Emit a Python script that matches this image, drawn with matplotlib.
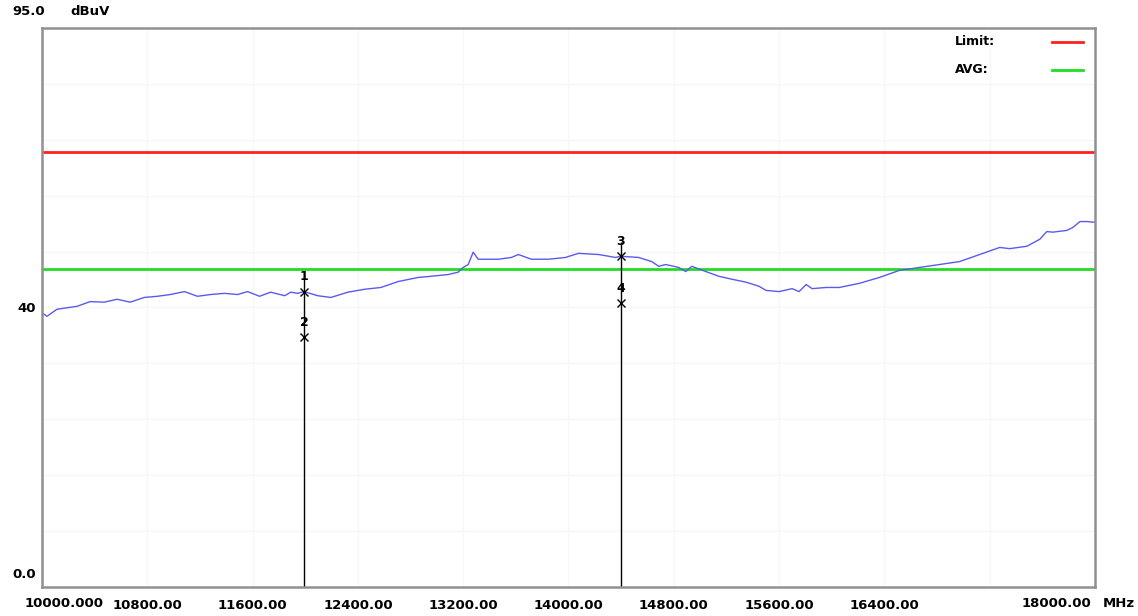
import matplotlib
matplotlib.use('Agg')
import matplotlib.pyplot as plt
import numpy as np

plt.rcParams['font.family'] = ['DejaVu Sans']

# trace (MHz, dBuV)
freq = [10000, 10038, 10114, 10267, 10366, 10472, 10571, 10670, 10777, 10876,
        10975, 11082, 11181, 11280, 11387, 11486, 11562, 11653, 11737, 11844,
        11890, 11943, 11989, 12095, 12194, 12324, 12453, 12575, 12705, 12857,
        12956, 13086, 13162, 13200, 13238, 13276, 13314, 13467, 13566, 13619,
        13718, 13848, 13977, 14076, 14229, 14358, 14396, 14533, 14632, 14686,
        14739, 14838, 14891, 14937, 15044, 15143, 15242, 15349, 15448, 15501,
        15600, 15699, 15752, 15806, 15851, 15958, 16057, 16210, 16362, 16514,
        16667, 16819, 16971, 17124, 17276, 17352, 17482, 17581, 17634, 17680,
        17787, 17832, 17886, 17939, 17985, 18000]
level = [46.6, 46.0, 47.2, 47.7, 48.5, 48.4, 48.9, 48.4, 49.2, 49.4,
         49.7, 50.2, 49.4, 49.7, 49.9, 49.7, 50.2, 49.4, 50.1, 49.5,
         50.1, 49.9, 50.2, 49.5, 49.2, 50.1, 50.6, 50.9, 51.9, 52.6,
         52.8, 53.1, 53.5, 54.3, 54.8, 56.9, 55.7, 55.7, 56.0, 56.5,
         55.7, 55.7, 56.0, 56.7, 56.5, 56.0, 56.2, 56.0, 55.3, 54.5,
         54.8, 54.3, 53.6, 54.5, 53.6, 52.8, 52.3, 51.8, 51.1, 50.4,
         50.2, 50.7, 50.2, 51.4, 50.7, 50.9, 50.9, 51.6, 52.6, 53.8,
         54.3, 54.8, 55.3, 56.5, 57.7, 57.5, 57.9, 59.1, 60.4, 60.3,
         60.6, 61.1, 62.1, 62.1, 62.0, 62.0]

limit_peak = 74.0
limit_avg = 54.0

mk_freq = [11990, 11990, 14396, 14396]
mk_level = [50.2, 42.4, 56.2, 48.2]
mk_name = ['1', '2', '3', '4']

xtick_vals = [10800, 11600, 12400, 13200, 14000, 14800, 15600, 16400]
xtick_text = ['10800.00', '11600.00', '12400.00', '13200.00', '14000.00',
              '14800.00', '15600.00', '16400.00']

fig = plt.figure(figsize=(11.38, 6.16), dpi=100)
ax = fig.add_axes([0.0369, 0.0471, 0.9253, 0.9075])

ax.set_xlim(10000, 18000)
ax.set_ylim(0, 95)

# very faint background grid
for gx in np.arange(10000, 18001, 800):
    ax.axvline(gx, color='#f7f7f7', lw=1, zorder=0)
for gy in np.arange(0, 95.1, 9.5):
    ax.axhline(gy, color='#f7f7f7', lw=1, zorder=0)

ax.axhline(limit_peak, color='#ff2020', lw=2)
ax.axhline(limit_avg, color='#22dd22', lw=2)
ax.plot(freq, level, color='#5a5af0', lw=1)

# marker lines + labels
ax.vlines([mk_freq[0], mk_freq[2]], 0, [mk_level[0] + 2.5, mk_level[2] + 2.5], color='black', lw=1)
ax.plot(mk_freq, mk_level, 'x', color='black', ms=6, mew=1)
for f, v, n in zip(mk_freq, mk_level, mk_name):
    ax.annotate(n, (f, v), xytext=(0, 6), textcoords='offset points',
                ha='center', va='bottom', fontsize=9, fontweight='bold')

for s in ax.spines.values():
    s.set_color('#909090')
    s.set_linewidth(1.8)

ax.set_xticks(xtick_vals)
ax.set_xticklabels(xtick_text, fontsize=9.5, fontweight='bold')
ax.tick_params(axis='x', length=0, pad=9)
ax.set_yticks([])

tr = ax.transAxes
ax.annotate('10000.000', (10000, 0), xytext=(-17, -17), textcoords='offset pixels',
            ha='left', va='center', fontsize=9.5, fontweight='bold', annotation_clip=False)
ax.annotate('18000.00', (18000, 0), xytext=(-4, -17), textcoords='offset pixels',
            ha='right', va='center', fontsize=9.5, fontweight='bold', annotation_clip=False)
ax.text(1.0076, -0.030, 'MHz', transform=tr, ha='left', va='center', fontsize=9.5, fontweight='bold')
ax.text(-0.006, 0.023, '0.0', transform=tr, ha='right', va='center', fontsize=9.5, fontweight='bold')
ax.text(-0.006, 0.499, '40', transform=tr, ha='right', va='center', fontsize=9.5, fontweight='bold')
ax.text(0.003, 1.029, '95.0', transform=tr, ha='right', va='center', fontsize=9.5, fontweight='bold')
ax.text(0.0266, 1.029, 'dBuV', transform=tr, ha='left', va='center', fontsize=9.5, fontweight='bold')

# legend block, top right: label then line sample
ax.text(0.867, 0.975, 'Limit:', transform=tr, ha='left', va='center', fontsize=9, fontweight='bold')
ax.text(0.867, 0.925, 'AVG:', transform=tr, ha='left', va='center', fontsize=9, fontweight='bold')
ax.plot([0.959, 0.9886], [0.975, 0.975], transform=tr, color='#ff2020', lw=2)
ax.plot([0.959, 0.9886], [0.925, 0.925], transform=tr, color='#22dd22', lw=2)

fig.savefig('out.png', dpi=100)
